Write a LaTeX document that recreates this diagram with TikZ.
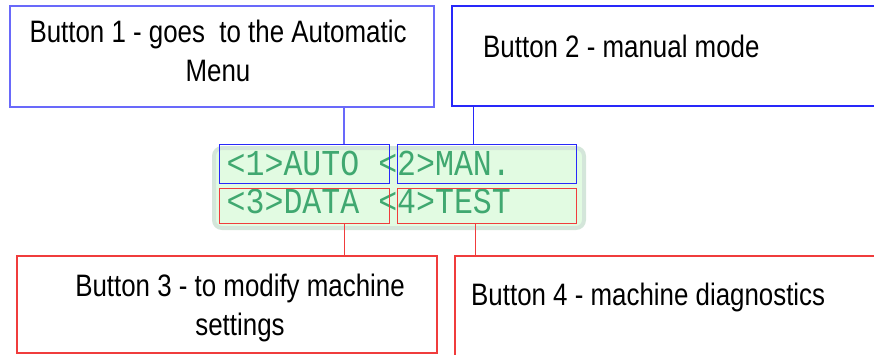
\documentclass[tikz,border=0pt]{standalone}
\usepackage{fontspec}
\setmainfont[FakeStretch=0.835]{Liberation Sans}
\newfontfamily\lcdfont[FakeStretch=0.865]{Liberation Mono}
\definecolor{bluebox}{RGB}{40,40,250}
\definecolor{lightbluebox}{RGB}{105,105,250}
\definecolor{redbox}{RGB}{240,60,60}
\definecolor{lcdfill}{RGB}{226,251,226}
\definecolor{lcdedge}{RGB}{212,230,218}
\definecolor{lcdtext}{RGB}{64,168,112}
\begin{document}
\begin{tikzpicture}[x=1pt,y=-1pt,
	box/.style={draw,rectangle,inner sep=0pt,line width=1.3pt},
	cell/.style={draw,rectangle,inner sep=0pt,line width=1pt},
	lcdline/.style={font=\lcdfont\fontsize{36.5}{36.5}\selectfont,text=lcdtext,
		inner sep=0pt,anchor=base west},
	caption/.style={font=\fontsize{31}{39}\selectfont,inner sep=0pt}]
	\useasboundingbox (0,0) rectangle (874,354);

	% display panel
	\node[draw=lcdedge,fill=lcdfill,line width=4pt,rounded corners=8pt,
		minimum width=370pt,minimum height=80pt,inner sep=0pt] (lcd) at (399,188) {};
	\node[lcdline] (row1) at (226.5,175.5) {<1>AUTO <2>MAN.};
	\node[lcdline] (row2) at (226.5,213.5) {<3>DATA <4>TEST};

	\begin{scope}[every node/.style={cell,minimum height=39pt}]
	\node[draw=bluebox,minimum width=170pt] (auto) at (304,163.5) {};
	\node[draw=bluebox,minimum width=179pt] (man) at (486.5,163.5) {};
	\end{scope}
	\begin{scope}[every node/.style={cell,minimum height=35pt}]
	\node[draw=redbox,minimum width=170pt] (data) at (304,205.5) {};
	\node[draw=redbox,minimum width=179pt] (test) at (486.5,205.5) {};
	\end{scope}

	% callout boxes
	\node[box,draw=lightbluebox,minimum width=424pt,minimum height=101pt] (b1) at (222,56.5) {};
	\node[box,draw=bluebox,minimum width=448pt,minimum height=100pt] (b2) at (676,56) {};
	\node[box,draw=redbox,minimum width=420pt,minimum height=97pt] (b3) at (227,304.5) {};
	\node[box,draw=redbox,minimum width=445pt,minimum height=114pt] (b4) at (677.5,313) {};

	\node[caption,align=center] (t1) at (218,50.5) {Button 1 - goes~ to the Automatic\\Menu};
	\node[caption,anchor=base west] (t2) at (483,57) {Button 2 - manual mode};
	\node[caption,align=center] (t3) at (240,308) {Button 3 - to modify machine\\settings};
	\node[caption,anchor=base west] (t4) at (471,305) {Button 4 - machine diagnostics};

	% leader lines
	\coordinate (k1) at (344,0);
	\coordinate (k2) at (473,0);
	\coordinate (k3) at (344,0);
	\coordinate (k4) at (475,0);
	\draw[lightbluebox,line width=1.5pt] (b1.south -| k1) -- (auto.north -| k1);
	\draw[bluebox,line width=1pt] (b2.south -| k2) -- (man.north -| k2);
	\draw[redbox,line width=1pt] (data.south -| k3) -- (b3.north -| k3);
	\draw[redbox,line width=1pt] (test.south -| k4) -- (b4.north -| k4);
\end{tikzpicture}
\end{document}
